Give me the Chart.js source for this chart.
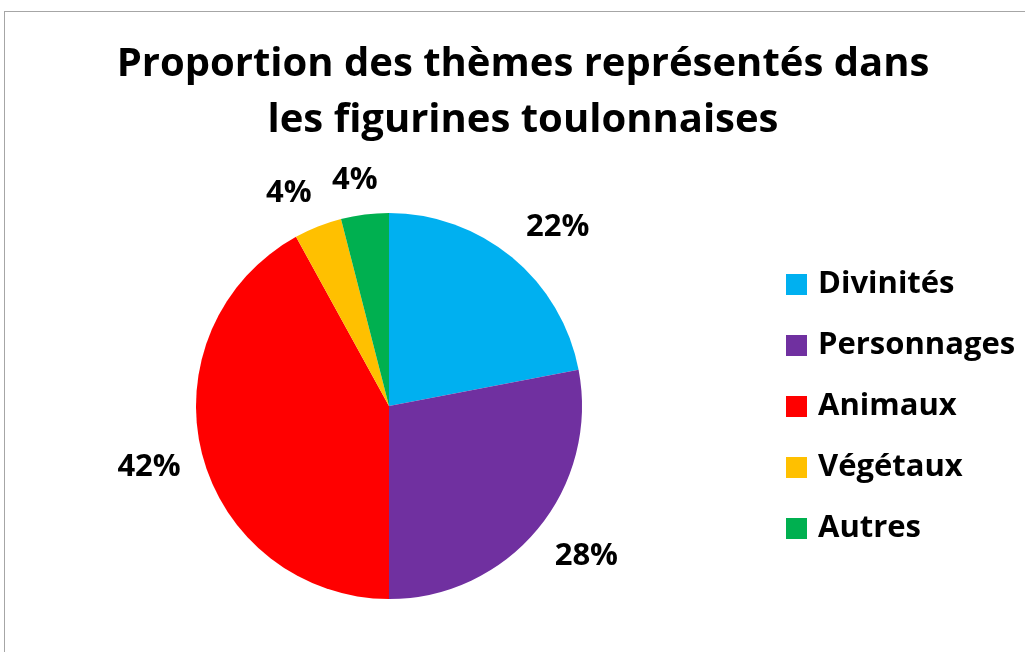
<!DOCTYPE html>
<html>
<head>
<meta charset="utf-8">
<script src="https://cdn.jsdelivr.net/npm/chart.js@4.4.1/dist/chart.umd.min.js"></script>
<style>
  html, body { margin: 0; padding: 0; background: #fff; }
  #frame { position: absolute; left: 4px; top: 11px; width: 1021px; height: 641px;
           border-left: 1px solid #a6a6a6; border-top: 1px solid #a6a6a6; }
  #wrap { position: absolute; left: 0; top: 0; width: 1025px; height: 652px; }
</style>
</head>
<body>
<div id="frame"></div>
<div id="wrap"><canvas id="pie" width="1025" height="652"></canvas></div>
<script>
// données du graphique
const titleLines = ['Proportion des thèmes représentés dans', 'les figurines toulonnaises'];
const categories = ['Divinités', 'Personnages', 'Animaux', 'Végétaux', 'Autres'];
const shares = [22, 28, 42, 4, 4];
const colors = ['#00b0f0', '#7030a0', '#ff0000', '#ffc000', '#00b050'];

const FONT = '"Open Sans", Lato, sans-serif';

const clamp = (v, lo, hi) => Math.max(lo, Math.min(hi, v));

// titre, légende et étiquettes de pourcentage dessinés à la main
const decorations = {
  id: 'decorations',
  afterDraw(chart) {
    const ctx = chart.ctx;
    const meta = chart.getDatasetMeta(0);
    const arc0 = meta.data[0];
    const cx = arc0.x, cy = arc0.y, r = arc0.outerRadius;
    ctx.save();
    ctx.fillStyle = '#000';

    // titre
    ctx.font = 'bold 40px ' + FONT;
    ctx.textAlign = 'center';
    ctx.textBaseline = 'alphabetic';
    ctx.fillText(titleLines[0], 523, 76);
    ctx.fillText(titleLines[1], 523, 132);

    // étiquettes à l'extérieur des parts : on part du bord du camembert au
    // milieu de la part, on s'écarte un peu, puis on décale la boîte du texte
    // vers l'extérieur selon la direction
    ctx.font = 'bold 31px ' + FONT;
    ctx.textBaseline = 'middle';
    const gap = 22, h = 26;
    meta.data.forEach((arc, i) => {
      const a = (arc.startAngle + arc.endAngle) / 2;
      const txt = shares[i] + '%';
      const w = ctx.measureText(txt).width;
      const dx = Math.cos(a), dy = Math.sin(a);
      const x = cx + dx * (r + gap) + clamp(dx * 2.5, -1, 1) * w / 2;
      const y = cy + dy * (r + gap) + clamp(dy * 2.5, -1, 1) * h / 2;
      ctx.fillText(txt, x, y);
    });

    // légende
    ctx.textAlign = 'left';
    const step = 61;
    categories.forEach((name, i) => {
      const y = cy + 0.5 + (i - (categories.length - 1) / 2) * step;
      ctx.fillStyle = colors[i];
      ctx.fillRect(786, y - 10.5, 21, 21);
      ctx.fillStyle = '#000';
      ctx.fillText(name, 818, y);
    });
    ctx.restore();
  }
};

new Chart(document.getElementById('pie').getContext('2d'), {
  type: 'pie',
  data: {
    labels: categories,
    datasets: [{ data: shares, backgroundColor: colors, borderWidth: 0 }]
  },
  options: {
    responsive: false,
    animation: false,
    layout: { padding: { left: 196, top: 213, right: 443, bottom: 53 } },
    plugins: { legend: { display: false }, tooltip: { enabled: false }, title: { display: false } }
  },
  plugins: [decorations]
});
</script>
</body>
</html>
